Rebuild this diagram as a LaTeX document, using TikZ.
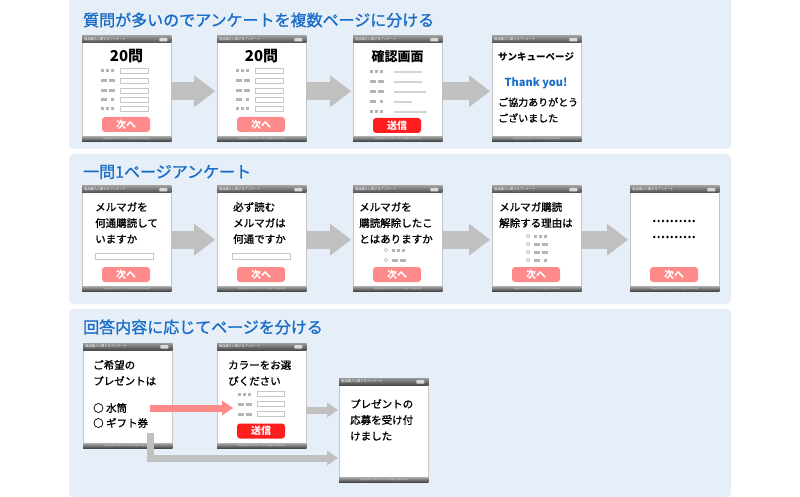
\documentclass[tikz,border=0pt]{standalone}
\usepackage{fontspec}
\setmainfont{Noto Sans CJK JP}
\newfontfamily\jpmid[RawFeature={embolden=1.2}]{Noto Sans CJK JP}
\usepackage{tikz}
\usetikzlibrary{arrows.meta,calc,positioning,shadows}

\definecolor{panelbg}{HTML}{E6EEF7}
\definecolor{titleblue}{HTML}{1A6EC8}
\definecolor{arrowgray}{HTML}{C0C0C0}
\definecolor{btnpink}{HTML}{FF8A8A}
\definecolor{btnred}{HTML}{FF1E1E}
\definecolor{stubgray}{HTML}{B4B4B4}

\tikzset{
  page/.style={draw=gray!45,fill=white,minimum width=89pt,inner sep=0pt,anchor=north west,
    drop shadow={shadow xshift=1pt,shadow yshift=-1pt,opacity=.3,fill=gray}},
  hdrbar/.style={top color=black!40,bottom color=black!70},
  ftrbar/.style={top color=black!35,bottom color=black!75},
  hdrtext/.style={anchor=west,inner sep=0pt,text=white,font=\fontsize{3.2}{3.2}\selectfont},
  ftrtext/.style={inner sep=0pt,text=white!80!gray,font=\fontsize{2.2}{2.2}\selectfont},
  paneltitle/.style={anchor=west,inner sep=0pt,text=titleblue,font=\jpmid\fontsize{16}{16}\selectfont},
  pghead/.style={inner sep=0pt,font=\bfseries\fontsize{13}{13}\selectfont},
  % anchored at the baseline of the last line
  qtext/.style={anchor=base west,align=left,inner sep=0pt,font=\jpmid\fontsize{10.5}{16}\selectfont},
  btn/.style={fill=btnpink,rounded corners=3pt,minimum width=48pt,minimum height=15pt,
    inner sep=0pt,text=white,font=\bfseries\fontsize{10}{10}\selectfont},
  btnsend/.style={btn,fill=btnred},
  inbox/.style={draw=gray!45,fill=white,line width=0.8pt},
  confline/.style={draw=gray!35,line width=2pt},
  radio/.style={draw=gray!60,line width=0.6pt},
  bigarrow/.style={arrowgray,line width=18pt,-{Triangle[width=32pt,length=21pt,line width=0pt]}},
  smallarrow/.style={line width=7pt,-{Triangle[width=15pt,length=11pt,line width=0pt]}},
}

% one screen of the questionnaire
\newcommand{\mockpage}[2]{%
  \node[page,minimum height=#2pt] (#1) at (0,0) {};
  \fill[hdrbar] (#1.north west) rectangle ($(#1.north east)+(0,7)$);
  \node[hdrtext] (#1-hd) at ($(#1.north west)+(2,3.5)$) {商品購入に関するアンケート};
  \fill[white!70!gray,rounded corners=0.8pt] ($(#1.north east)+(-12,2)$) rectangle ($(#1.north east)+(-4,5.5)$);
  \fill[ftrbar] ($(#1.south west)+(0,-5)$) rectangle (#1.south east);
  \node[ftrtext] (#1-ft) at ($(#1.south)+(0,-2.5)$) {Copyright (c) XXX CO., LTD. All Rights Reserved.};
}
\newcommand{\stubs}[3]{\foreach \s/\w in {#3}{\fill[stubgray] (#1+\s,#2-1.5) rectangle ++(\w,3);}}
\newcommand{\radiorow}[3]{\draw[radio] (#1,#2) circle (1.8); \stubs{#1+6}{#2}{#3}}
\newcommand{\formrows}{%
  \stubs{19}{35}{0/3,5/3,10/3} \draw[inbox] (38,32.5) rectangle (66,37.5);
  \stubs{19}{45}{0/6,8/6}      \draw[inbox] (38,42.5) rectangle (66,47.5);
  \stubs{19}{55}{0/6,8/6}      \draw[inbox] (38,52.5) rectangle (66,57.5);
  \stubs{19}{64}{0/6,10/3}     \draw[inbox] (38,61.5) rectangle (66,66.5);
  \stubs{19}{73}{0/3,5/3,10/3} \draw[inbox] (38,70.5) rectangle (66,75.5);
}

\begin{document}
\begin{tikzpicture}[x=1pt,y=-1pt,>=Stealth]
\useasboundingbox (0,0) rectangle (800,497);

% panels
\fill[panelbg,rounded corners=4pt] (69,-6) rectangle (731,149);
\fill[panelbg,rounded corners=4pt] (69,154) rectangle (731,304);
\fill[panelbg,rounded corners=4pt] (69,309) rectangle (731,497);
\node[paneltitle] (t1) at (83,20) {質問が多いのでアンケートを複数ページに分ける};
\node[paneltitle] (t2) at (83,172) {一問1ページアンケート};
\node[paneltitle] (t3) at (83,327) {回答内容に応じてページを分ける};

% row 1
\begin{scope}[shift={(82,36)}]
  \mockpage{pg11}{105}
  \node[pghead,font=\bfseries\fontsize{15}{15}\selectfont] (p11t) at (44.5,20) {20問};
  \formrows
  \node[btn] (p11b) at (44,88.5) {次へ};
\end{scope}
\begin{scope}[shift={(217,36)}]
  \mockpage{pg12}{105}
  \node[pghead,font=\bfseries\fontsize{15}{15}\selectfont] (p12t) at (44.5,20) {20問};
  \formrows
  \node[btn] (p12b) at (44,88.5) {次へ};
\end{scope}
\begin{scope}[shift={(353,36)}]
  \mockpage{pg13}{105}
  \node[pghead] (p13t) at (44.5,20.5) {確認画面};
  \stubs{17}{36}{0/3,5/3,10/3} \draw[confline] (41,36) -- ++(28,0);
  \stubs{17}{46}{0/6,8/6}      \draw[confline] (41,46) -- ++(28,0);
  \stubs{17}{56}{0/6,8/6}      \draw[confline] (41,56) -- ++(32,0);
  \stubs{17}{66}{0/6,10/3}     \draw[confline] (41,66) -- ++(18,0);
  \stubs{17}{76}{0/3,5/3,10/3} \draw[confline] (41,76) -- ++(33,0);
  \node[btnsend] (p13b) at (44,89.5) {送信};
\end{scope}
\begin{scope}[shift={(492,36)}]
  \mockpage{pg14}{105}
  \node[pghead,anchor=west,font=\bfseries\fontsize{9.5}{9.5}\selectfont] (p14t) at (6,21) {サンキューページ};
  \node[pghead,text=titleblue,font=\bfseries\fontsize{11}{11}\selectfont] (p14y) at (44,47) {Thank you!};
  \node[qtext,font=\jpmid\fontsize{10}{16}\selectfont] (p14m) at (6,86) {ご協力ありがとう\\ございました};
\end{scope}

\draw[bigarrow] ($(pg11.east)+(0,2.5)$) -- ($(pg12.west)+(-2,2.5)$);
\draw[bigarrow] ($(pg12.east)+(0,2.5)$) -- ($(pg13.west)+(-2,2.5)$);
\draw[bigarrow] ($(pg13.east)+(0,2.5)$) -- ($(pg14.west)+(-2,2.5)$);

% row 2
\begin{scope}[shift={(82,186)}]
  \mockpage{pg21}{105}
  \node[qtext] (p21q) at (13,57) {メルマガを\\何通購読して\\いますか};
  \draw[inbox] (13,67) rectangle (71,73);
  \node[btn] (p21b) at (44,88.5) {次へ};
\end{scope}
\begin{scope}[shift={(217,186)}]
  \mockpage{pg22}{105}
  \node[qtext] (p22q) at (16,57) {必ず読む\\メルマガは\\何通ですか};
  \draw[inbox] (15,67) rectangle (73,73);
  \node[btn] (p22b) at (44,88.5) {次へ};
\end{scope}
\begin{scope}[shift={(353,186)}]
  \mockpage{pg23}{105}
  \node[qtext] (p23q) at (6,57) {メルマガを\\購読解除したこ\\とはありますか};
  \radiorow{33}{64}{0/3,5/3,10/3}
  \radiorow{33}{74}{0/6,8/6}
  \node[btn] (p23b) at (44,88.5) {次へ};
\end{scope}
\begin{scope}[shift={(492,186)}]
  \mockpage{pg24}{105}
  \node[qtext] (p24q) at (7,41) {メルマガ購読\\解除する理由は};
  \radiorow{36}{50}{0/3,5/3,10/3}
  \radiorow{36}{58}{0/6,8/6}
  \radiorow{36}{66}{0/6,8/6}
  \radiorow{36}{74}{0/6,10/3}
  \node[btn] (p24b) at (44,88.5) {次へ};
\end{scope}
\begin{scope}[shift={(630,186)}]
  \mockpage{pg25}{105}
  \foreach \i in {0,...,9}{
    \fill (24.2+\i*4.4,35) circle (1.35);
    \fill (24.2+\i*4.4,51) circle (1.35);
  }
  \node[btn] (p25b) at (44,88.5) {次へ};
\end{scope}

\draw[bigarrow] ($(pg21.east)+(0,1)$) -- ($(pg22.west)+(-2,1)$);
\draw[bigarrow] ($(pg22.east)+(0,1)$) -- ($(pg23.west)+(-2,1)$);
\draw[bigarrow] ($(pg23.east)+(0,1)$) -- ($(pg24.west)+(-2,1)$);
\draw[bigarrow] ($(pg24.east)+(0,1)$) -- ($(pg25.west)+(-2,1)$);

% row 3
\begin{scope}[shift={(83,343)}]
  \mockpage{pg31}{105}
  \node[qtext] (p31q) at (10,42) {ご希望の\\プレゼントは};
  \node[qtext,font=\jpmid\fontsize{10.5}{15}\selectfont] (p31o) at (10,84) {○ 水筒\\○ ギフト券};
\end{scope}
\begin{scope}[shift={(217,343)}]
  \mockpage{pg32}{105}
  \node[qtext] (p32q) at (11,42) {カラーをお選\\びください};
  \stubs{21}{51}{0/3,5/3,10/3} \draw[inbox] (40,48.5) rectangle (67,53.5);
  \stubs{21}{61}{0/6,8/6}      \draw[inbox] (40,58.5) rectangle (67,63.5);
  \stubs{21}{71}{0/6,8/6}      \draw[inbox] (40,68.5) rectangle (67,73.5);
  \node[btnsend] (p32b) at (44,88) {送信};
\end{scope}
\begin{scope}[shift={(339,378)}]
  \mockpage{pg33}{104}
  \node[qtext] (p33q) at (11,62) {プレゼントの\\応募を受け付\\けました};
\end{scope}

\coordinate (watersel) at ($(pg31.north west)+(67,65)$);
\coordinate (giftsel) at ($(pg31.north west)+(67,90)$);
\coordinate (colorrow) at ($(pg32.north west)+(16,65)$);
\draw[smallarrow,btnpink] (watersel) -- (colorrow);
\draw[smallarrow,arrowgray] ($(pg32.north east)+(0,67)$) -- ($(pg33.north west)+(-1,32)$);
\draw[smallarrow,arrowgray,line join=miter] (giftsel) |- ($(pg33.north west)+(-1,80)$);
\end{tikzpicture}
\end{document}
